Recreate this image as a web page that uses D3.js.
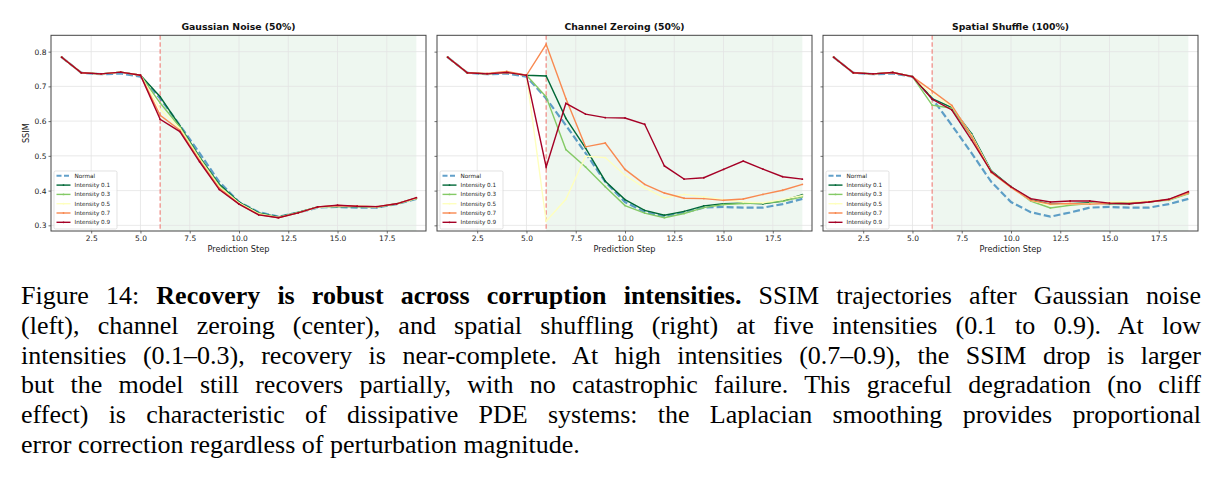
<!DOCTYPE html>
<html>
<head>
<meta charset="utf-8">
<script src="https://cdn.jsdelivr.net/npm/d3@7"></script>
<style>
  body { margin: 0; background: #fff; }
  #wrap { position: relative; width: 1221px; height: 492px; }
  #chart { position: absolute; left: 0; top: 0; }
  #caption { position: absolute; left: 21px; top: 281px; width: 1180px;
             font-size: 26px; line-height: 29.8px; color: #000; }
  #caption div { text-align: justify; text-align-last: justify; white-space: nowrap; }
  #caption div.last { text-align-last: left; }
</style>
</head>
<body>
<div id="wrap">
  <svg id="chart" width="1221" height="270"></svg>
  <div id="caption"></div>
</div>
<script>
// ---- data ----
let steps = [1, 2, 3, 4, 5, 6, 7, 8, 9, 10, 11, 12, 13, 14, 15, 16, 17, 18, 19];
let seriesNames = ["Normal", "Intensity 0.1", "Intensity 0.3", "Intensity 0.5", "Intensity 0.7", "Intensity 0.9"];
let panelTitles = ["Gaussian Noise (50%)", "Channel Zeroing (50%)", "Spatial Shuffle (100%)"];
let xTicks = [2.5, 5.0, 7.5, 10.0, 12.5, 15.0, 17.5];
let yTicks = [0.3, 0.4, 0.5, 0.6, 0.7, 0.8];
let corruptionStep = 6;

let normal = [0.784, 0.739, 0.735, 0.737, 0.728, 0.665, 0.588, 0.508, 0.425, 0.367, 0.338, 0.325, 0.337, 0.351, 0.353, 0.351, 0.351, 0.361, 0.376];

let gaussian01 = [0.784, 0.739, 0.736, 0.741, 0.732, 0.670, 0.586, 0.497, 0.418, 0.367, 0.336, 0.324, 0.337, 0.353, 0.354, 0.354, 0.352, 0.362, 0.378];
let gaussian03 = [0.784, 0.739, 0.736, 0.741, 0.732, 0.652, 0.583, 0.494, 0.414, 0.365, 0.334, 0.323, 0.337, 0.353, 0.355, 0.354, 0.353, 0.361, 0.377];
let gaussian05 = [0.784, 0.739, 0.736, 0.741, 0.732, 0.634, 0.579, 0.491, 0.411, 0.364, 0.333, 0.323, 0.336, 0.352, 0.355, 0.355, 0.353, 0.362, 0.378];
let gaussian07 = [0.784, 0.739, 0.736, 0.741, 0.732, 0.617, 0.574, 0.487, 0.407, 0.362, 0.331, 0.322, 0.336, 0.353, 0.357, 0.355, 0.354, 0.362, 0.379];
let gaussian09 = [0.784, 0.739, 0.736, 0.741, 0.732, 0.605, 0.570, 0.483, 0.403, 0.361, 0.330, 0.322, 0.336, 0.353, 0.358, 0.355, 0.354, 0.362, 0.380];

let zeroing01 = [0.784, 0.739, 0.736, 0.740, 0.732, 0.730, 0.608, 0.522, 0.427, 0.374, 0.343, 0.329, 0.340, 0.356, 0.362, 0.364, 0.362, 0.370, 0.388];
let zeroing03 = [0.784, 0.739, 0.736, 0.740, 0.732, 0.670, 0.518, 0.468, 0.411, 0.357, 0.335, 0.322, 0.334, 0.351, 0.360, 0.363, 0.364, 0.369, 0.382];
let zeroing05 = [0.784, 0.739, 0.736, 0.740, 0.732, 0.312, 0.375, 0.499, 0.495, 0.444, 0.408, 0.379, 0.389, 0.382, 0.374, 0.367, 0.365, 0.374, 0.386];
let zeroing07 = [0.784, 0.739, 0.737, 0.743, 0.732, 0.821, 0.665, 0.526, 0.537, 0.461, 0.418, 0.393, 0.378, 0.377, 0.372, 0.376, 0.389, 0.401, 0.418];
let zeroing09 = [0.784, 0.739, 0.736, 0.740, 0.732, 0.468, 0.651, 0.620, 0.610, 0.609, 0.591, 0.471, 0.433, 0.437, 0.461, 0.485, 0.462, 0.440, 0.433];

let shuffle01 = [0.784, 0.739, 0.736, 0.740, 0.728, 0.665, 0.639, 0.564, 0.457, 0.411, 0.374, 0.361, 0.362, 0.365, 0.362, 0.362, 0.367, 0.374, 0.394];
let shuffle03 = [0.784, 0.739, 0.736, 0.740, 0.728, 0.646, 0.637, 0.555, 0.454, 0.411, 0.370, 0.350, 0.358, 0.363, 0.364, 0.368, 0.369, 0.372, 0.391];
let shuffle05 = [0.784, 0.739, 0.736, 0.740, 0.728, 0.675, 0.643, 0.560, 0.454, 0.409, 0.372, 0.358, 0.361, 0.363, 0.367, 0.369, 0.370, 0.374, 0.393];
let shuffle07 = [0.784, 0.739, 0.736, 0.740, 0.728, 0.687, 0.645, 0.557, 0.452, 0.409, 0.372, 0.361, 0.363, 0.361, 0.363, 0.363, 0.367, 0.374, 0.393];
let shuffle09 = [0.784, 0.739, 0.736, 0.740, 0.728, 0.663, 0.632, 0.545, 0.454, 0.411, 0.377, 0.367, 0.370, 0.370, 0.364, 0.362, 0.367, 0.375, 0.397];

let captionLines = [
  "Figure 14: <b>Recovery is robust across corruption intensities.</b> SSIM trajectories after Gaussian noise",
  "(left), channel zeroing (center), and spatial shuffling (right) at five intensities (0.1 to 0.9). At low",
  "intensities (0.1\u20130.3), recovery is near-complete. At high intensities (0.7\u20130.9), the SSIM drop is larger",
  "but the model still recovers partially, with no catastrophic failure. This graceful degradation (no cliff",
  "effect) is characteristic of dissipative PDE systems: the Laplacian smoothing provides proportional",
  "error correction regardless of perturbation magnitude."
];

let panels = [
  [normal, gaussian01, gaussian03, gaussian05, gaussian07, gaussian09],
  [normal, zeroing01, zeroing03, zeroing05, zeroing07, zeroing09],
  [normal, shuffle01, shuffle03, shuffle05, shuffle07, shuffle09]
];

// ---- layout / style ----
let svg = d3.select("#chart"),
    panelLeft = [51, 437, 823],
    panelW = 375,
    panelTop = 35.3,
    panelH = 195.7,
    colors = ["#1f77b4", "#006837", "#84ca66", "#feffbe", "#f88950", "#a50026"],
    font = "'DejaVu Sans', sans-serif";

let x = d3.scaleLinear().domain([0.46, 19.49]).range([0, panelW]);
let y = d3.scaleLinear().domain([0.2837, 0.847]).range([panelH, 0]);

let line = d3.line()
    .x(function(d, i) { return x(steps[i]); })
    .y(function(d) { return y(d); });

panels.forEach(function(data, p) {
  let g = svg.append("g").attr("transform", "translate(" + panelLeft[p] + "," + panelTop + ")");

  // recovery region shading
  g.append("rect")
    .attr("x", x(corruptionStep)).attr("y", 0)
    .attr("width", x(19) - x(corruptionStep)).attr("height", panelH)
    .attr("fill", "#eef7f0");

  // grid
  g.selectAll(".gx").data(xTicks).enter().append("line")
    .attr("x1", d => x(d)).attr("x2", d => x(d))
    .attr("y1", 0).attr("y2", panelH)
    .attr("stroke", "#e3e3e3").attr("stroke-width", 0.8);
  g.selectAll(".gy").data(yTicks).enter().append("line")
    .attr("x1", 0).attr("x2", panelW)
    .attr("y1", d => y(d)).attr("y2", d => y(d))
    .attr("stroke", "#e3e3e3").attr("stroke-width", 0.8);

  // corruption marker
  g.append("line")
    .attr("x1", x(corruptionStep)).attr("x2", x(corruptionStep))
    .attr("y1", 0).attr("y2", panelH)
    .attr("stroke", "#f0908a").attr("stroke-width", 1.3)
    .attr("stroke-dasharray", "4.5,2.5");

  // series
  data.forEach(function(vals, s) {
    let path = g.append("path")
      .datum(vals)
      .attr("d", line)
      .attr("fill", "none")
      .attr("stroke", colors[s]);
    if (s == 0) {
      path.attr("stroke-width", 2.2).attr("stroke-opacity", 0.7).attr("stroke-dasharray", "7,3");
    } else {
      path.attr("stroke-width", 1.4);
      g.selectAll(".m" + s).data(vals).enter().append("circle")
        .attr("cx", (d, i) => x(steps[i])).attr("cy", d => y(d))
        .attr("r", 0.9).attr("fill", colors[s]);
    }
  });

  // axes
  let xAxis = d3.axisBottom(x).tickValues(xTicks).tickFormat(d3.format(".1f")).tickSize(2.5).tickPadding(2);
  let yAxis = d3.axisLeft(y).tickValues(yTicks).tickSize(2.5).tickPadding(2)
      .tickFormat(p == 0 ? d3.format(".1f") : "");
  let ax = g.append("g").attr("transform", "translate(0," + panelH + ")").call(xAxis);
  let ay = g.append("g").call(yAxis);
  [ax, ay].forEach(function(a) {
    a.select(".domain").remove();
    a.selectAll("line").attr("stroke", "#333").attr("stroke-width", 0.7);
    a.selectAll("text").attr("fill", "#222").style("font-family", font).style("font-size", "7.5px");
  });

  // frame
  g.append("rect").attr("width", panelW).attr("height", panelH)
    .attr("fill", "none").attr("stroke", "#444").attr("stroke-width", 1);

  // title + labels
  g.append("text").attr("x", panelW / 2).attr("y", -5)
    .attr("text-anchor", "middle").style("font-family", font)
    .style("font-size", "9.3px").style("font-weight", "bold").attr("fill", "#111")
    .text(panelTitles[p]);
  g.append("text").attr("x", panelW / 2).attr("y", panelH + 21.5)
    .attr("text-anchor", "middle").style("font-family", font)
    .style("font-size", "8.2px").attr("fill", "#222")
    .text("Prediction Step");
  if (p == 0) {
    g.append("text")
      .attr("transform", "translate(" + (-22) + "," + (panelH / 2) + ") rotate(-90)")
      .attr("text-anchor", "middle").style("font-family", font)
      .style("font-size", "8.2px").attr("fill", "#222")
      .text("SSIM");
  }

  // legend
  let lg = g.append("g").attr("transform", "translate(" + 3 + "," + (panelH - 60) + ")");
  lg.append("rect").attr("width", 63).attr("height", 58).attr("rx", 1.5)
    .attr("fill", "#fff").attr("fill-opacity", 0.8)
    .attr("stroke", "#d6d6d6").attr("stroke-width", 0.7);
  seriesNames.forEach(function(name, s) {
    let ly = 4.8 + s * 9.3;
    let l = lg.append("line").attr("x1", 2.5).attr("x2", 16.5).attr("y1", ly).attr("y2", ly)
      .attr("stroke", colors[s]);
    if (s == 0) l.attr("stroke-width", 2).attr("stroke-opacity", 0.7).attr("stroke-dasharray", "5,2.5");
    else {
      l.attr("stroke-width", 1.4);
      lg.append("circle").attr("cx", 9.5).attr("cy", ly).attr("r", 0.9).attr("fill", colors[s]);
    }
    lg.append("text").attr("x", 20.5).attr("y", ly + 2)
      .style("font-family", font).style("font-size", "5.7px").attr("fill", "#222")
      .text(name);
  });
});

// caption: pick the first serif face that is actually installed
function hasFont(name) {
  let ctx = document.createElement("canvas").getContext("2d");
  let probe = "Recovery is robust mmmWWWiiil 0123";
  return ["monospace", "sans-serif"].some(function(base) {
    ctx.font = "40px " + base;
    let w0 = ctx.measureText(probe).width;
    ctx.font = "40px '" + name + "', " + base;
    return Math.abs(ctx.measureText(probe).width - w0) > 0.5;
  }) && (function() {
    ctx.font = "40px monospace"; let a = ctx.measureText(probe).width;
    ctx.font = "40px '" + name + "', monospace"; let b = ctx.measureText(probe).width;
    return Math.abs(a - b) > 0.5;
  })();
}
let serifCandidates = ["Liberation Serif", "Tinos", "Times New Roman", "Nimbus Roman", "Nimbus Roman No9 L",
                       "FreeSerif", "Noto Serif", "DejaVu Serif", "Noto Serif CJK SC", "Noto Serif CJK JP"];
let serifFace = serifCandidates.find(hasFont);
d3.select("#caption")
  .style("font-family", serifFace ? "'" + serifFace + "', serif" : "'Liberation Sans', sans-serif")
  .style("font-size", serifFace ? "26px" : "25px");

d3.select("#caption").selectAll("div").data(captionLines).enter().append("div")
  .attr("class", (d, i) => i == captionLines.length - 1 ? "last" : null)
  .html(d => d);
</script>
</body>
</html>
